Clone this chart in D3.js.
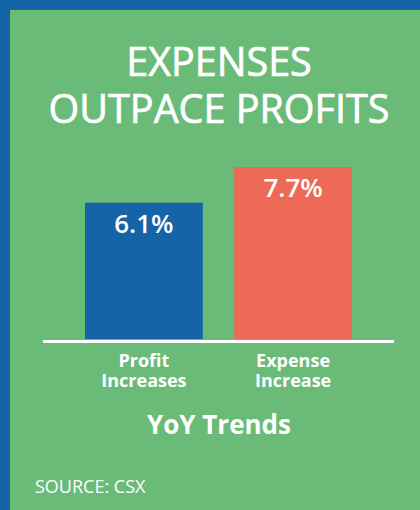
<!DOCTYPE html>
<html>
<head>
<meta charset="utf-8">
<script src="https://cdn.jsdelivr.net/npm/d3@7"></script>
<style>
  body { margin: 0; background: #fff; }
  text { font-family: "Open Sans", sans-serif; fill: #fff; }
</style>
</head>
<body>
<script>
const categories = ["Profit Increases", "Expense Increase"];
const categoryLines = [["Profit", "Increases"], ["Expense", "Increase"]];
const values = [6.1, 7.7];
const valueLabels = ["6.1%", "7.7%"];
const titleLines = ["EXPENSES", "OUTPACE PROFITS"];
const axisTitle = "YoY Trends";
const source = "SOURCE: CSX";

const width = 420;
const height = 510;
const colors = ["#1565a6", "#ed6b56"];

const svg = d3.select("body").append("svg")
    .attr("width", width)
    .attr("height", height);

// frame: blue on the top and left, green panel
svg.append("rect").attr("width", width).attr("height", height).attr("fill", "#1565a6");
svg.append("rect").attr("x", 10).attr("y", 10)
    .attr("width", width - 10).attr("height", height - 10)
    .attr("fill", "#6abb78");

svg.selectAll(".title")
    .data(titleLines)
    .enter()
    .append("text")
    .attr("class", "title")
    .attr("x", 219)
    .attr("y", (d, i) => 76 + i * 47)
    .attr("text-anchor", "middle")
    .style("font-size", "39.5px")
    .style("stroke", "#fff")
    .style("stroke-width", 0.7)
    .text(d => d);

const x = d3.scaleBand()
    .domain(categories)
    .range([85, 352])
    .paddingInner(0.21)
    .paddingOuter(0);

const y = d3.scaleLinear()
    .domain([0, 7.7])
    .range([339, 167]);

svg.selectAll(".bar")
    .data(values)
    .enter()
    .append("rect")
    .attr("class", "bar")
    .attr("x", (d, i) => x(categories[i]))
    .attr("y", d => y(d))
    .attr("width", x.bandwidth())
    .attr("height", d => y(0) - y(d))
    .attr("fill", (d, i) => colors[i]);

svg.selectAll(".val")
    .data(values)
    .enter()
    .append("text")
    .attr("class", "val")
    .attr("x", (d, i) => x(categories[i]) + x.bandwidth() / 2)
    .attr("y", d => y(d) + 30)
    .attr("text-anchor", "middle")
    .style("font-size", "26px")
    .style("font-weight", 600)
    .text((d, i) => valueLabels[i]);

// baseline
svg.append("line")
    .attr("x1", 43).attr("x2", 394)
    .attr("y1", y(0) + 2.5).attr("y2", y(0) + 2.5)
    .attr("stroke", "#fff")
    .attr("stroke-width", 3);

const labels = svg.selectAll(".cat")
    .data(categories)
    .enter()
    .append("text")
    .attr("class", "cat")
    .attr("text-anchor", "middle")
    .style("font-size", "18px")
    .style("font-weight", 700);

labels.selectAll("tspan")
    .data((d, i) => categoryLines[i].map(t => ({ t, c: d })))
    .enter()
    .append("tspan")
    .attr("x", d => x(d.c) + x.bandwidth() / 2)
    .attr("y", (d, i) => 367 + i * 20)
    .text(d => d.t);

svg.append("text")
    .attr("x", 219)
    .attr("y", 434)
    .attr("text-anchor", "middle")
    .style("font-size", "26px")
    .style("font-weight", 700)
    .text(axisTitle);

svg.append("text")
    .attr("x", 35)
    .attr("y", 493)
    .style("font-size", "18px")
    .text(source);
</script>
</body>
</html>
